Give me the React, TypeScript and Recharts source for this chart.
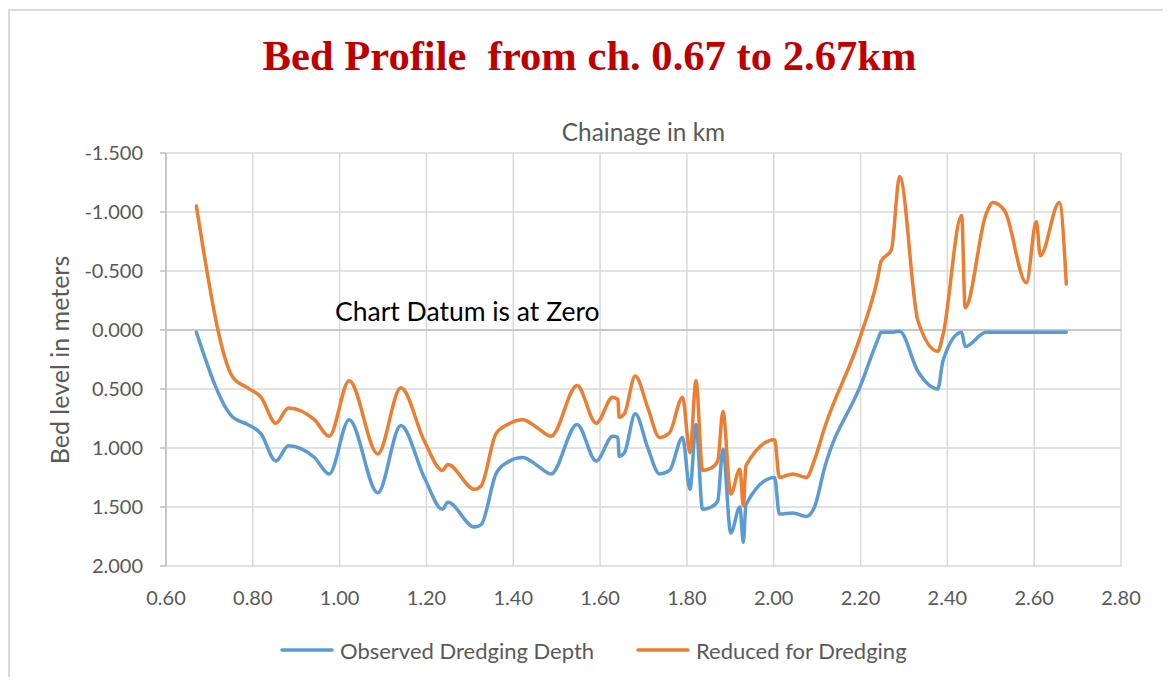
import React from "react";
import {
  LineChart,
  Line,
  XAxis,
  YAxis,
  CartesianGrid,
  ReferenceLine,
  Legend,
} from "recharts";

// Chainage (km)
const chainage = [
  0.67, 0.754, 0.788, 0.819, 0.853, 0.882, 0.942, 0.976, 1.022, 1.088, 1.141,
  1.195, 1.237, 1.249, 1.311, 1.326, 1.36, 1.387, 1.422, 1.456, 1.487, 1.547,
  1.591, 1.629, 1.641, 1.644, 1.656, 1.681, 1.71, 1.737, 1.76, 1.79, 1.807,
  1.821, 1.836, 1.856, 1.871, 1.883, 1.901, 1.922, 1.93, 1.936, 2.002, 2.013,
  2.044, 2.075, 2.094, 2.117, 2.2, 2.24, 2.247, 2.271, 2.29, 2.332, 2.378,
  2.39, 2.433, 2.441, 2.489, 2.505, 2.532, 2.582, 2.605, 2.614, 2.658, 2.674,
];

// Observed Dredging Depth (m)
const observed = [
  0.02, 0.74, 0.8, 0.88, 1.11, 0.98, 1.08, 1.22, 0.76, 1.38, 0.81,
  1.25, 1.52, 1.46, 1.67, 1.65, 1.22, 1.12, 1.08, 1.15, 1.22, 0.8,
  1.11, 0.9, 0.91, 1.07, 1.04, 0.71, 1.0, 1.22, 1.19, 0.91, 1.35,
  0.8, 1.52, 1.5, 1.45, 1.01, 1.72, 1.5, 1.8, 1.48, 1.25, 1.56,
  1.55, 1.58, 1.5, 1.17, 0.47, 0.08, 0.02, 0.02, 0.01, 0.35, 0.5,
  0.26, 0.02, 0.14, 0.02, 0.02, 0.02, 0.02, 0.02, 0.02, 0.02, 0.02,
];

// Reduced for Dredging (m)
const reduced = [
  -1.05, 0.4, 0.49, 0.57, 0.79, 0.66, 0.76, 0.9, 0.43, 1.05, 0.49,
  0.94, 1.19, 1.14, 1.35, 1.32, 0.88, 0.8, 0.76, 0.83, 0.9, 0.47,
  0.79, 0.57, 0.59, 0.74, 0.71, 0.39, 0.66, 0.91, 0.87, 0.57, 1.04,
  0.43, 1.19, 1.17, 1.11, 0.69, 1.39, 1.18, 1.49, 1.15, 0.93, 1.25,
  1.22, 1.25, 1.1, 0.83, 0.05, -0.45, -0.58, -0.68, -1.3, -0.08, 0.18,
  0.04, -0.97, -0.19, -0.98, -1.08, -1.01, -0.4, -0.92, -0.63, -1.08, -0.39,
];

const xTicks = [0.6, 0.8, 1.0, 1.2, 1.4, 1.6, 1.8, 2.0, 2.2, 2.4, 2.6, 2.8];
const yTicks = [-1.5, -1.0, -0.5, 0, 0.5, 1.0, 1.5, 2.0];

const seriesNames = ["Observed Dredging Depth", "Reduced for Dredging"];
const seriesColors = ["#5B9BD5", "#ED7D31"];

const data = chainage.map((c, i) => ({
  ch: c,
  observed: observed[i],
  reduced: reduced[i],
}));

const FONT = "Lato, 'Open Sans', sans-serif";
const TXT = "#595959";

const renderLegend = () => (
  <div
    style={{
      position: "relative",
      width: 1163,
      height: 30,
      fontFamily: FONT,
      fontSize: 22,
      color: TXT,
    }}
  >
    {[0, 1].map((i) => (
      <div
        key={i}
        style={{
          position: "absolute",
          left: i === 0 ? 272 : 628,
          top: 0,
          height: 30,
          display: "flex",
          alignItems: "center",
          whiteSpace: "nowrap",
        }}
      >
        <svg width={54} height={6} style={{ marginRight: 6 }}>
          <line
            x1={2}
            y1={3}
            x2={52}
            y2={3}
            stroke={seriesColors[i]}
            strokeWidth={3.5}
            strokeLinecap="round"
          />
        </svg>
        <span>{seriesNames[i]}</span>
      </div>
    ))}
  </div>
);

export default function App() {
  return (
    <div style={{ position: "relative", width: 1163, height: 669, overflow: "hidden" }}>
      <div
        style={{
          position: "absolute",
          left: 0,
          top: 1,
          width: 1200,
          height: 700,
          borderTop: "2px solid #d9d9d9",
          borderLeft: "2px solid #d9d9d9",
          boxSizing: "border-box",
          pointerEvents: "none",
        }}
      />
      <LineChart
        width={1163}
        height={669}
        data={data}
        margin={{ top: 145, right: 50, bottom: 71, left: 0 }}
      >
        <CartesianGrid stroke="#d9d9d9" strokeWidth={1.5} />
        <XAxis
          dataKey="ch"
          type="number"
          domain={[0.6, 2.8]}
          ticks={xTicks}
          allowDataOverflow
          tickFormatter={(v: number) => v.toFixed(2)}
          axisLine={false}
          tickLine={false}
          tickSize={0}
          tickMargin={25}
          height={40}
          tick={{ fill: TXT, fontSize: 20, fontFamily: FONT }}
        />
        <YAxis
          type="number"
          domain={[-1.5, 2]}
          ticks={yTicks}
          reversed
          allowDataOverflow
          width={158}
          tickFormatter={(v: number) => v.toFixed(3)}
          axisLine={{ stroke: "#bfbfbf", strokeWidth: 1.5 }}
          tickLine={{ stroke: "#bfbfbf", strokeWidth: 1.5 }}
          tickSize={6}
          tickMargin={17}
          tick={{ fill: TXT, fontSize: 20, fontFamily: FONT }}
        />
        <ReferenceLine
          y={0}
          stroke="#bfbfbf"
          strokeWidth={1.5}
          label={(props: any) => {
            const vb = props.viewBox || {};
            return (
              <text
                x={(vb.x ?? 158) + 169}
                y={(vb.y ?? 321) - 9}
                fill="#000000"
                fontSize={26.5}
                fontFamily={FONT}
              >
                Chart Datum is at Zero
              </text>
            );
          }}
        />
        <Line
          type="monotone"
          dataKey="observed"
          name={seriesNames[0]}
          stroke={seriesColors[0]}
          strokeWidth={3.5}
          strokeLinecap="round"
          strokeLinejoin="round"
          dot={false}
          activeDot={false}
          isAnimationActive={false}
        />
        <Line
          type="monotone"
          dataKey="reduced"
          name={seriesNames[1]}
          stroke={seriesColors[1]}
          strokeWidth={3.5}
          strokeLinecap="round"
          strokeLinejoin="round"
          dot={false}
          activeDot={false}
          isAnimationActive={false}
        />
        <Legend
          verticalAlign="middle"
          align="center"
          layout="horizontal"
          content={renderLegend}
          wrapperStyle={{ top: 627, left: 0, width: 1163, height: 30 }}
        />
      </LineChart>
      <svg
        width={1163}
        height={669}
        style={{ position: "absolute", left: 0, top: 0, pointerEvents: "none" }}
      >
        <text
          x={581.5}
          y={62}
          textAnchor="middle"
          fill="#C00000"
          fontSize={42.6}
          fontWeight="bold"
          fontFamily="'Liberation Serif', 'Times New Roman', serif"
          style={{ whiteSpace: "pre" }}
        >
          {"Bed Profile  from ch. 0.67 to 2.67km"}
        </text>
        <text
          x={635.5}
          y={133}
          textAnchor="middle"
          fill={TXT}
          fontSize={24.4}
          fontFamily={FONT}
        >
          Chainage in km
        </text>
        <text
          x={0}
          y={0}
          transform="translate(61 352) rotate(-90)"
          textAnchor="middle"
          fill={TXT}
          fontSize={25}
          fontFamily={FONT}
        >
          Bed level in meters
        </text>
      </svg>
    </div>
  );
}
